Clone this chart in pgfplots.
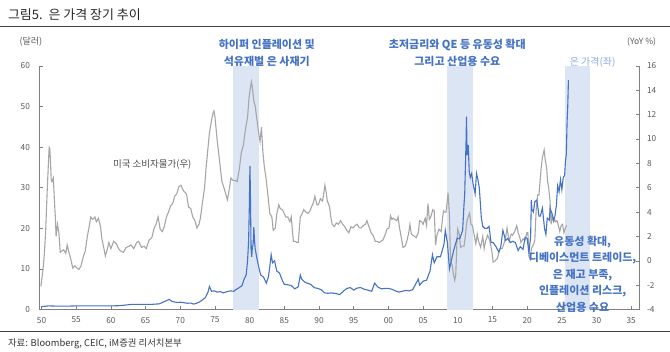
\documentclass[border=0pt]{standalone}
\usepackage{pgfplots}
\pgfplotsset{compat=1.18}
\usepackage{fontspec}
\setmainfont{Noto Sans CJK KR}
\definecolor{blueline}{HTML}{4472C4}
\definecolor{bandblue}{HTML}{DCE5F4}
\definecolor{grayline}{HTML}{A6A6A6}
\definecolor{axisgray}{HTML}{808080}
\definecolor{labgray}{HTML}{595959}
\definecolor{annblue}{HTML}{4472C4}
\definecolor{lightann}{HTML}{8FAADC}
\begin{document}
\begin{tikzpicture}[x=1pt,y=1pt]
\path (0,0) rectangle (670,352);
\pgfplotsset{
  common/.style={
    at={(39pt,42pt)}, anchor=south west,
    width=601pt, height=244pt, scale only axis,
    xmin=1949.7, xmax=2036.2,
    axis line style={draw=axisgray, line width=0.8pt, -},
    tick style={draw=axisgray, line width=0.6pt},
    major tick length=3.5pt, tick align=inside,
    tick label style={font=\fontsize{8.3}{9}\selectfont, text=labgray},
    /pgf/number format/assume math mode=true,
  }
}
% CPI (right axis) with bands
\begin{axis}[common,
  ymin=-4, ymax=16,
  axis x line*=bottom, axis y line*=right,
  ytick={-4,-2,0,2,4,6,8,10,12,14,16},
  xtick={1950,1955,1960,1965,1970,1975,1980,1985,1990,1995,2000,2005,2010,2015,2020,2025,2030,2035},
  xticklabels={50,55,60,65,70,75,80,85,90,95,00,05,10,15,20,25,30,35},
  xticklabel style={yshift=-4pt},
  yticklabel style={xshift=4pt},
]
\addplot[fill=bandblue, draw=none] coordinates {(1977.6,-4) (1981.4,-4) (1981.4,16) (1977.6,16)} -- cycle;
\addplot[fill=bandblue, draw=none] coordinates {(2008.4,-4) (2012.2,-4) (2012.2,16) (2008.4,16)} -- cycle;
\addplot[fill=bandblue, draw=none] coordinates {(2025.4,-4) (2029.1,-4) (2029.1,16) (2025.4,16)} -- cycle;
\addplot[grayline, line width=1.1pt] coordinates {
(1949.9,-2.1)(1950.2,-0.8)(1950.4,0.5)(1950.6,2.5)(1950.8,5.5)(1951.0,8.1)(1951.1,9.3)(1951.2,9.2)(1951.3,8.0)(1951.4,6.6)(1951.5,6.5)(1951.7,6.8)(1951.9,4.5)(1952.0,3.5)(1952.1,2.0)(1952.3,3.0)(1952.5,2.3)(1952.7,0.7)(1952.9,0.8)(1953.2,0.9)(1953.5,0.6)(1953.7,1.3)(1953.9,0.8)(1954.2,0.2)(1954.5,-0.6)(1954.8,-0.4)(1955.1,-0.6)(1955.4,-0.7)(1955.7,-0.4)(1956.0,0.3)(1956.3,0.8)(1956.6,2.0)(1956.9,2.9)(1957.1,3.6)(1957.4,3.4)(1957.7,3.6)(1957.9,3.2)(1958.2,3.5)(1958.5,2.8)(1958.7,1.8)(1959.0,1.0)(1959.2,0.4)(1959.5,1.0)(1959.7,1.5)(1960.0,1.0)(1960.4,1.6)(1960.8,1.4)(1961.1,1.0)(1961.4,0.8)(1961.8,0.7)(1962.2,1.1)(1962.6,1.2)(1962.9,1.3)(1963.3,1.0)(1963.7,1.5)(1964.0,1.6)(1964.4,1.1)(1964.8,1.2)(1965.1,1.0)(1965.5,1.7)(1965.9,1.9)(1966.2,2.6)(1966.5,3.0)(1966.8,3.6)(1967.1,2.6)(1967.4,2.4)(1967.7,2.8)(1968.0,3.6)(1968.3,4.0)(1968.6,4.5)(1968.9,4.7)(1969.2,5.3)(1969.5,5.5)(1969.8,6.1)(1970.1,6.2)(1970.4,5.8)(1970.7,5.6)(1970.9,5.5)(1971.2,4.4)(1971.5,4.3)(1971.8,3.6)(1972.1,3.3)(1972.4,2.7)(1972.7,3.0)(1972.9,3.5)(1973.2,4.8)(1973.5,6.0)(1973.7,7.5)(1973.9,8.7)(1974.2,10.5)(1974.5,11.5)(1974.7,12.1)(1974.85,12.3)(1975.0,11.8)(1975.3,10.0)(1975.5,9.0)(1975.8,7.5)(1976.0,6.5)(1976.3,6.0)(1976.6,5.4)(1976.8,5.0)(1977.1,6.0)(1977.3,6.8)(1977.6,6.6)(1977.9,6.6)(1978.2,6.5)(1978.5,7.5)(1978.8,8.9)(1979.1,9.5)(1979.4,10.8)(1979.7,11.8)(1979.9,13.3)(1980.1,14.2)(1980.25,14.7)(1980.4,14.2)(1980.6,13.1)(1980.8,12.7)(1981.0,11.8)(1981.3,10.5)(1981.5,9.8)(1981.7,11.0)(1981.9,9.0)(1982.1,7.8)(1982.4,6.6)(1982.7,5.0)(1982.9,3.9)(1983.2,3.6)(1983.4,2.5)(1983.7,2.7)(1983.9,3.8)(1984.2,4.6)(1984.4,4.3)(1984.7,4.2)(1984.9,4.0)(1985.2,3.6)(1985.5,3.6)(1985.8,3.2)(1986.0,3.6)(1986.3,1.6)(1986.6,1.6)(1986.8,1.5)(1987.0,1.5)(1987.3,3.6)(1987.5,3.8)(1987.8,4.2)(1988.1,4.0)(1988.4,3.9)(1988.7,4.1)(1988.9,4.4)(1989.2,4.8)(1989.4,5.3)(1989.7,4.6)(1989.9,4.6)(1990.2,5.1)(1990.5,4.9)(1990.7,5.6)(1990.85,6.2)(1991.0,5.7)(1991.2,4.9)(1991.5,4.5)(1991.7,3.6)(1991.9,3.0)(1992.2,2.8)(1992.5,3.1)(1992.8,3.0)(1993.1,3.3)(1993.4,3.0)(1993.7,2.8)(1994.0,2.5)(1994.3,2.3)(1994.6,2.8)(1994.9,2.7)(1995.2,2.9)(1995.5,3.0)(1995.8,2.7)(1996.1,2.7)(1996.4,2.9)(1996.7,3.0)(1996.9,3.3)(1997.2,2.8)(1997.5,2.3)(1997.8,2.1)(1998.1,1.6)(1998.4,1.6)(1998.7,1.5)(1998.9,1.6)(1999.2,1.7)(1999.5,2.1)(1999.8,2.6)(2000.1,2.7)(2000.3,3.7)(2000.5,3.4)(2000.7,3.5)(2000.9,3.4)(2001.2,3.3)(2001.4,3.6)(2001.6,2.7)(2001.8,2.1)(2001.95,1.6)(2002.1,1.1)(2002.4,1.2)(2002.6,1.5)(2002.9,2.2)(2003.1,3.0)(2003.3,2.2)(2003.5,2.1)(2003.8,2.0)(2004.0,1.9)(2004.3,2.3)(2004.5,3.3)(2004.8,3.2)(2005.0,3.0)(2005.3,3.5)(2005.5,2.9)(2005.7,4.7)(2005.9,3.4)(2006.1,3.6)(2006.4,4.2)(2006.6,4.1)(2006.8,1.3)(2007.0,2.1)(2007.3,2.6)(2007.6,2.4)(2007.8,3.5)(2007.95,4.1)(2008.1,4.0)(2008.3,4.0)(2008.5,5.0)(2008.6,5.6)(2008.8,3.7)(2008.95,0.1)(2009.2,-0.4)(2009.4,-1.2)(2009.55,-1.6)(2009.7,-1.2)(2009.9,1.8)(2010.0,2.6)(2010.2,2.2)(2010.4,1.1)(2010.6,1.2)(2010.9,1.2)(2011.1,2.1)(2011.3,3.2)(2011.5,3.6)(2011.7,3.9)(2011.9,3.0)(2012.1,2.9)(2012.3,2.3)(2012.6,1.4)(2012.8,2.2)(2013.0,1.6)(2013.3,1.1)(2013.6,2.0)(2013.8,1.0)(2014.0,1.6)(2014.3,2.1)(2014.6,1.7)(2014.9,0.8)(2015.1,-0.1)(2015.4,0.0)(2015.7,0.2)(2015.95,0.7)(2016.1,1.0)(2016.4,1.0)(2016.7,1.5)(2016.95,2.1)(2017.1,2.7)(2017.4,1.6)(2017.7,2.2)(2017.9,2.1)(2018.2,2.4)(2018.5,2.9)(2018.7,2.3)(2018.95,1.9)(2019.1,1.5)(2019.4,1.8)(2019.7,1.7)(2019.95,2.3)(2020.1,2.3)(2020.3,0.3)(2020.45,0.1)(2020.6,1.0)(2020.8,1.2)(2020.95,1.4)(2021.1,1.7)(2021.3,4.2)(2021.5,5.4)(2021.7,5.4)(2021.9,6.8)(2022.0,7.5)(2022.2,8.5)(2022.45,9.1)(2022.6,8.3)(2022.8,7.7)(2022.95,6.5)(2023.1,6.0)(2023.3,4.9)(2023.45,3.0)(2023.6,3.7)(2023.8,3.2)(2023.95,3.4)(2024.1,3.2)(2024.3,3.3)(2024.5,2.9)(2024.7,2.4)(2024.9,2.9)(2025.1,3.0)(2025.3,2.3)(2025.5,2.7)(2025.7,2.9)
};
\end{axis}
% Silver price (left axis)
\begin{axis}[common,
  ymin=0, ymax=60,
  axis x line=none, axis y line*=left,
  ytick={0,10,20,30,40,50,60},
  yticklabel style={xshift=-6pt},
]
\addplot[blueline, line width=1.1pt] coordinates {
(1950.0,0.72)(1951.0,0.90)(1952.0,0.85)(1953.0,0.85)(1954.0,0.85)(1955.0,0.90)(1956.0,0.91)(1957.0,0.90)(1958.0,0.89)(1959.0,0.91)(1960.0,0.91)(1961.0,0.93)(1962.0,1.08)(1963.0,1.28)(1964.0,1.29)(1965.0,1.29)(1966.0,1.29)(1967.0,1.40)(1967.5,1.80)(1968.0,2.20)(1968.4,2.50)(1968.8,2.00)(1969.2,1.85)(1969.6,1.75)(1970.0,1.80)(1970.5,1.70)(1971.0,1.55)(1971.5,1.60)(1971.9,1.35)(1972.3,1.50)(1972.8,1.90)(1973.2,2.40)(1973.6,2.90)(1974.0,4.30)(1974.2,5.70)(1974.5,4.50)(1974.9,4.60)(1975.3,4.30)(1975.8,4.40)(1976.2,4.10)(1976.7,4.40)(1977.2,4.60)(1977.7,4.50)(1978.0,4.90)(1978.5,5.40)(1978.9,5.90)(1979.2,7.50)(1979.5,8.50)(1979.7,12.0)(1979.85,17.0)(1979.95,25.0)(1980.04,35.4)(1980.1,30.0)(1980.2,15.0)(1980.3,13.0)(1980.4,15.5)(1980.5,16.0)(1980.6,20.3)(1980.7,17.0)(1980.8,15.0)(1981.0,13.0)(1981.3,10.5)(1981.6,8.5)(1982.0,8.0)(1982.4,6.5)(1982.7,8.0)(1982.9,10.5)(1983.1,13.5)(1983.3,11.5)(1983.6,12.0)(1983.9,9.5)(1984.3,9.0)(1984.7,7.2)(1985.0,6.2)(1985.5,6.1)(1986.0,5.9)(1986.5,5.1)(1987.0,5.6)(1987.3,8.5)(1987.5,7.5)(1987.9,6.8)(1988.3,6.5)(1988.8,6.2)(1989.3,5.4)(1989.8,5.2)(1990.3,4.9)(1990.8,4.1)(1991.3,4.0)(1991.8,4.1)(1992.5,3.9)(1993.0,3.7)(1993.5,4.5)(1994.0,5.2)(1994.5,5.4)(1995.0,4.8)(1995.5,5.3)(1996.0,5.4)(1996.5,5.0)(1997.0,4.8)(1997.6,4.5)(1998.0,6.5)(1998.5,5.5)(1999.0,5.1)(1999.5,5.2)(2000.0,5.2)(2000.5,5.0)(2001.0,4.6)(2001.5,4.3)(2002.0,4.5)(2002.5,4.7)(2003.0,4.6)(2003.5,4.9)(2004.0,6.5)(2004.3,7.5)(2004.5,6.0)(2005.0,7.0)(2005.5,7.2)(2006.0,9.5)(2006.35,13.5)(2006.6,11.5)(2007.0,13.0)(2007.5,13.0)(2008.0,16.0)(2008.2,19.5)(2008.5,16.5)(2008.8,10.0)(2009.0,11.5)(2009.4,14.5)(2009.9,17.5)(2010.3,17.5)(2010.7,19.5)(2010.9,26.0)(2011.0,28.5)(2011.2,42.0)(2011.25,47.5)(2011.35,38.0)(2011.5,40.5)(2011.65,34.0)(2011.8,32.5)(2012.0,33.5)(2012.2,31.0)(2012.5,28.5)(2012.7,33.5)(2012.9,32.0)(2013.1,30.0)(2013.4,22.5)(2013.6,20.5)(2013.9,20.0)(2014.2,20.0)(2014.5,20.5)(2014.8,16.5)(2015.1,16.5)(2015.5,15.5)(2015.9,14.2)(2016.2,15.5)(2016.5,19.5)(2016.9,17.0)(2017.2,17.5)(2017.6,16.5)(2017.9,16.8)(2018.3,16.5)(2018.7,14.5)(2019.0,15.5)(2019.4,14.8)(2019.7,17.8)(2020.0,17.5)(2020.25,14.0)(2020.5,18.0)(2020.6,27.0)(2020.7,24.5)(2020.9,24.0)(2021.1,26.5)(2021.4,27.0)(2021.7,23.0)(2021.9,23.0)(2022.2,25.0)(2022.5,20.0)(2022.7,18.5)(2022.9,22.5)(2023.2,22.0)(2023.3,25.0)(2023.6,23.5)(2023.8,22.0)(2024.0,23.0)(2024.2,25.5)(2024.4,30.5)(2024.6,29.0)(2024.8,32.0)(2025.0,29.5)(2025.2,32.5)(2025.4,33.0)(2025.5,36.0)(2025.65,38.5)(2025.75,46.0)(2025.85,50.0)(2025.95,56.5)
};
\end{axis}
% title and rules
\node[anchor=west, text=black!85, font=\fontsize{13}{15}\selectfont] at (4,337) {그림5.\ \ 은 가격 장기 추이};
\draw[black!75, line width=1pt] (0,325.3) -- (670,325.3);
\draw[black!75, line width=1pt] (0,19.7) -- (670,19.7);
\node[anchor=west, text=black!80, font=\fontsize{9.4}{11}\selectfont] at (4,8) {자료: Bloomberg, CEIC, iM증권 리서치본부};
% unit labels
\node[text=labgray, font=\fontsize{9}{10}\selectfont] at (30.5,310.3) {(달러)};
\node[text=labgray, font=\fontsize{8.5}{10}\selectfont] at (642,310.3) {(YoY \%)};
% annotations
\node[text=annblue, font=\bfseries\fontsize{11}{17.5}\selectfont, align=center, anchor=center] at (266.7,299.2) {하이퍼 인플레이션 및\\석유재벌 은 사재기};
\node[text=annblue, font=\bfseries\fontsize{11}{17.5}\selectfont, align=center, anchor=center] at (457.5,299.2) {초저금리와 QE 등 유동성 확대\\그리고 산업용 수요};
\node[text=lightann, font=\fontsize{10}{11}\selectfont] at (593,290) {은 가격(좌)};
\node[text=black!70, font=\fontsize{9.5}{10}\selectfont] at (152,187) {미국 소비자물가(우)};
\node[text=annblue, font=\bfseries\fontsize{11}{16.5}\selectfont, align=center, anchor=center] at (583,77.6) {유동성 확대,\\디베이스먼트 트레이드,\\은 재고 부족,\\인플레이션 리스크,\\산업용 수요};
\end{tikzpicture}
\end{document}
